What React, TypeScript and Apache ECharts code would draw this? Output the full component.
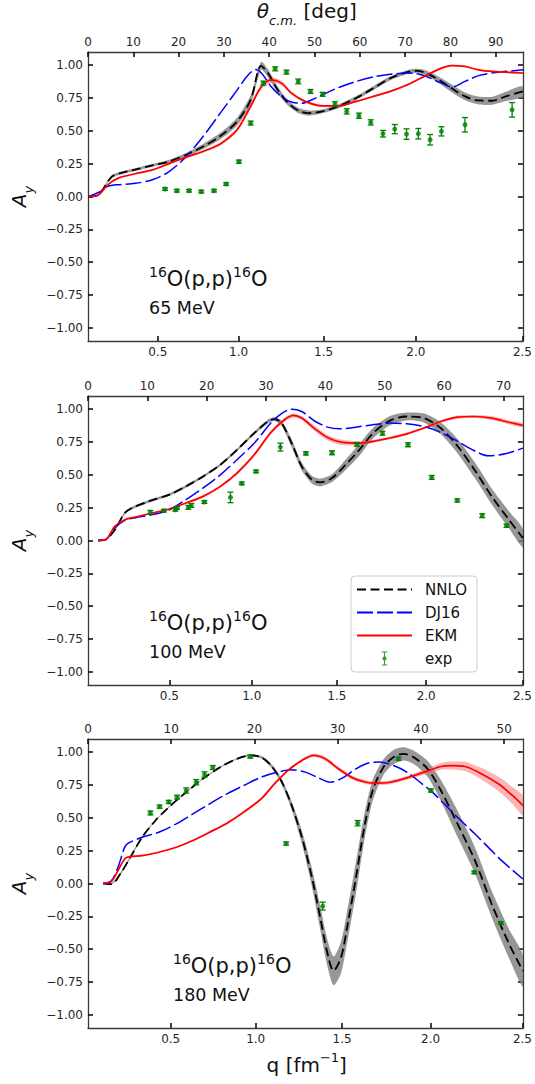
import React, { useEffect, useRef } from "react";
import * as echarts from "echarts";

// ---------- tick labels ----------
const Q_TICKS = [0.5, 1.0, 1.5, 2.0, 2.5];
const AY_TICKS = [-1, -0.75, -0.5, -0.25, 0, 0.25, 0.5, 0.75, 1];
const P1_THETA_TICKS = [0, 10, 20, 30, 40, 50, 60, 70, 80, 90];
const P2_THETA_TICKS = [0, 10, 20, 30, 40, 50, 60, 70];
const P3_THETA_TICKS = [0, 10, 20, 30, 40, 50];

// ---------- Panel 1 : 65 MeV (x values are theta_cm in degrees) ----------
const P1_NNLO_T = [0.1, 2.2, 5.2, 7.4, 10.4, 14.2, 17.9, 21.7, 25.4, 29.2, 32.9, 35.9, 38.2, 39.7, 41.9, 44.2, 46.4, 48.7, 51.7, 55.5, 59.2, 63.0, 66.7, 70.5, 72.7, 75.0, 78.0, 80.2, 83.2, 86.2, 89.2, 92.2, 96.0];
const P1_NNLO_AY = [0, 0.01, 0.15, 0.18, 0.205, 0.237, 0.267, 0.318, 0.38, 0.46, 0.57, 0.735, 0.995, 0.94, 0.81, 0.71, 0.655, 0.635, 0.648, 0.69, 0.75, 0.825, 0.9, 0.947, 0.957, 0.934, 0.876, 0.825, 0.762, 0.731, 0.729, 0.762, 0.8];
const P1_NNLO_BAND = [0, 0.003, 0.01, 0.01, 0.01, 0.01, 0.012, 0.015, 0.02, 0.025, 0.03, 0.035, 0.03, 0.03, 0.025, 0.02, 0.02, 0.02, 0.015, 0.015, 0.015, 0.015, 0.015, 0.015, 0.015, 0.02, 0.025, 0.03, 0.03, 0.03, 0.03, 0.035, 0.04];
const P1_DJ_T = [0.1, 2.9, 4.4, 6.7, 10.4, 14.2, 17.9, 21.7, 25.4, 29.2, 32.9, 35.2, 37.0, 38.4, 40.4, 42.7, 44.9, 47.2, 49.4, 51.7, 55.5, 59.2, 63.0, 66.7, 70.5, 72.7, 75.0, 78.0, 80.3, 83.2, 86.2, 90.0, 96.0];
const P1_DJ_AY = [0, 0.04, 0.077, 0.09, 0.1, 0.127, 0.19, 0.305, 0.457, 0.635, 0.81, 0.92, 0.966, 0.934, 0.838, 0.76, 0.72, 0.71, 0.736, 0.774, 0.832, 0.876, 0.91, 0.93, 0.94, 0.934, 0.909, 0.863, 0.833, 0.876, 0.92, 0.944, 0.964];
const P1_EKM_T = [0.1, 2.2, 4.4, 6.7, 10.4, 14.2, 17.9, 21.7, 25.4, 29.2, 32.9, 35.9, 38.2, 40.4, 42.7, 44.9, 47.9, 51.7, 55.5, 59.2, 63.0, 66.7, 70.5, 74.2, 78.0, 80.2, 83.2, 86.2, 89.2, 96.0];
const P1_EKM_AY = [0, 0.01, 0.09, 0.14, 0.173, 0.203, 0.25, 0.3, 0.343, 0.4, 0.508, 0.686, 0.833, 0.888, 0.863, 0.787, 0.724, 0.69, 0.69, 0.724, 0.762, 0.8, 0.85, 0.914, 0.977, 0.997, 0.99, 0.964, 0.952, 0.94];
const P1_EKM_BAND = [0, 0.002, 0.004, 0.005, 0.005, 0.005, 0.006, 0.008, 0.01, 0.012, 0.015, 0.018, 0.02, 0.02, 0.018, 0.012, 0.01, 0.008, 0.006, 0.006, 0.006, 0.006, 0.006, 0.006, 0.006, 0.006, 0.006, 0.006, 0.006, 0.006];
const P1_EXP_T = [17.0, 19.6, 22.3, 25.0, 27.8, 30.5, 33.3, 35.9, 38.7, 41.3, 43.8, 46.4, 49.1, 51.8, 54.5, 57.1, 59.8, 62.4, 65.1, 67.7, 70.3, 72.9, 75.5, 78.0, 83.2, 93.6];
const P1_EXP_AY = [0.057, 0.044, 0.044, 0.037, 0.044, 0.095, 0.265, 0.559, 0.863, 0.972, 0.947, 0.876, 0.8, 0.778, 0.703, 0.648, 0.615, 0.564, 0.478, 0.513, 0.475, 0.478, 0.432, 0.496, 0.546, 0.66];
const P1_EXP_ERR = [0.01, 0.01, 0.01, 0.01, 0.01, 0.01, 0.012, 0.015, 0.015, 0.015, 0.015, 0.018, 0.015, 0.015, 0.018, 0.02, 0.02, 0.02, 0.025, 0.035, 0.04, 0.04, 0.04, 0.035, 0.055, 0.055];

// ---------- Panel 2 : 100 MeV ----------
const P2_NNLO_T = [1.7, 3.1, 4.5, 6.2, 7.4, 10.2, 13.7, 16.5, 19.4, 22.3, 25.1, 28.0, 30.3, 31.4, 32.6, 34.3, 36.0, 37.7, 39.1, 41.1, 43.4, 45.7, 48.0, 50.8, 53.7, 56.6, 59.4, 62.3, 65.1, 68.0, 70.9, 73.25];
const P2_NNLO_AY = [0, 0.01, 0.08, 0.21, 0.247, 0.298, 0.349, 0.412, 0.488, 0.577, 0.69, 0.817, 0.906, 0.924, 0.894, 0.741, 0.564, 0.463, 0.442, 0.475, 0.577, 0.69, 0.817, 0.911, 0.944, 0.932, 0.856, 0.716, 0.539, 0.336, 0.158, 0.019];
const P2_NNLO_BAND = [0, 0.003, 0.008, 0.01, 0.01, 0.01, 0.01, 0.01, 0.01, 0.01, 0.01, 0.012, 0.015, 0.015, 0.02, 0.03, 0.03, 0.03, 0.03, 0.03, 0.04, 0.045, 0.04, 0.035, 0.03, 0.035, 0.045, 0.055, 0.06, 0.06, 0.065, 0.07];
const P2_DJ_T = [1.7, 3.1, 4.5, 6.2, 8.0, 10.8, 13.7, 16.5, 19.4, 22.3, 25.1, 28.0, 30.8, 32.6, 34.3, 36.0, 38.3, 40.5, 42.3, 45.1, 48.0, 50.8, 53.7, 56.6, 59.4, 62.3, 65.1, 67.4, 70.3, 73.25];
const P2_DJ_AY = [0, 0.01, 0.095, 0.153, 0.174, 0.196, 0.234, 0.311, 0.4, 0.5, 0.615, 0.741, 0.894, 0.965, 1.0, 0.982, 0.906, 0.861, 0.85, 0.863, 0.881, 0.894, 0.888, 0.868, 0.823, 0.754, 0.683, 0.645, 0.66, 0.703];
const P2_EKM_T = [1.7, 3.1, 4.5, 6.2, 8.0, 10.8, 13.7, 16.5, 19.4, 22.3, 25.1, 28.0, 30.8, 33.1, 34.6, 36.0, 38.3, 40.5, 42.8, 45.7, 48.0, 50.8, 53.7, 56.6, 59.4, 62.3, 65.1, 68.0, 70.9, 73.25];
const P2_EKM_AY = [0, 0.01, 0.108, 0.158, 0.179, 0.209, 0.24, 0.285, 0.336, 0.412, 0.513, 0.653, 0.822, 0.919, 0.952, 0.932, 0.848, 0.78, 0.747, 0.741, 0.754, 0.78, 0.812, 0.856, 0.906, 0.939, 0.944, 0.932, 0.9, 0.876];
const P2_EKM_BAND = [0, 0, 0.003, 0.005, 0.005, 0.005, 0.005, 0.006, 0.008, 0.01, 0.012, 0.015, 0.015, 0.015, 0.015, 0.015, 0.02, 0.02, 0.02, 0.015, 0.012, 0.01, 0.01, 0.01, 0.01, 0.012, 0.012, 0.015, 0.015, 0.015];
const P2_EXP_T = [10.5, 12.8, 14.7, 15.0, 16.9, 17.4, 19.6, 24.0, 25.9, 28.3, 32.4, 36.7, 41.1, 45.3, 49.6, 53.9, 57.9, 62.2, 66.4, 70.5];
const P2_EXP_AY = [0.214, 0.227, 0.234, 0.247, 0.252, 0.267, 0.293, 0.328, 0.435, 0.526, 0.711, 0.663, 0.668, 0.731, 0.817, 0.729, 0.48, 0.305, 0.189, 0.113];
const P2_EXP_ERR = [0.015, 0.01, 0.01, 0.01, 0.015, 0.015, 0.01, 0.04, 0.01, 0.01, 0.03, 0.012, 0.015, 0.015, 0.015, 0.015, 0.015, 0.012, 0.015, 0.012];

// ---------- Panel 3 : 180 MeV ----------
const P3_NNLO_T = [1.8, 2.8, 4.0, 5.2, 6.5, 8.1, 9.7, 11.8, 13.8, 15.9, 17.9, 19.5, 20.8, 22.0, 23.2, 24.4, 25.7, 26.9, 27.9, 28.7, 29.5, 30.4, 31.2, 32.2, 33.2, 34.2, 35.5, 36.7, 37.9, 39.1, 40.8, 42.4, 44.4, 46.5, 48.5, 50.6, 52.25];
const P3_NNLO_AY = [0, -0.005, 0.085, 0.212, 0.352, 0.479, 0.58, 0.695, 0.797, 0.886, 0.949, 0.975, 0.962, 0.898, 0.784, 0.606, 0.352, 0.047, -0.258, -0.512, -0.665, -0.563, -0.309, 0.047, 0.428, 0.708, 0.886, 0.962, 0.987, 0.962, 0.873, 0.708, 0.454, 0.174, -0.156, -0.461, -0.665];
const P3_NNLO_BAND = [0, 0.005, 0.01, 0.01, 0.01, 0.005, 0.005, 0.005, 0.005, 0.005, 0.005, 0.008, 0.01, 0.015, 0.02, 0.03, 0.05, 0.07, 0.09, 0.1, 0.11, 0.12, 0.12, 0.12, 0.1, 0.08, 0.06, 0.055, 0.05, 0.05, 0.06, 0.08, 0.1, 0.1, 0.1, 0.11, 0.12];
const P3_DJ_T = [1.8, 2.8, 3.6, 4.4, 4.8, 6.5, 8.5, 10.6, 12.6, 14.6, 16.7, 18.7, 20.8, 22.8, 24.4, 26.1, 27.7, 29.1, 30.6, 32.2, 33.8, 35.0, 36.7, 38.3, 39.9, 41.6, 43.2, 44.8, 46.5, 48.1, 49.7, 52.25];
const P3_DJ_AY = [0, 0.02, 0.123, 0.275, 0.306, 0.352, 0.39, 0.454, 0.53, 0.606, 0.682, 0.746, 0.809, 0.848, 0.865, 0.848, 0.804, 0.771, 0.804, 0.873, 0.919, 0.924, 0.898, 0.848, 0.771, 0.682, 0.58, 0.479, 0.377, 0.275, 0.174, 0.034];
const P3_EKM_T = [1.8, 2.8, 3.6, 4.4, 5.0, 6.5, 8.5, 10.6, 12.6, 14.6, 16.7, 18.7, 20.8, 22.4, 24.0, 25.7, 27.1, 28.5, 30.1, 31.8, 33.4, 34.6, 36.3, 38.3, 40.4, 42.4, 43.6, 45.3, 47.3, 49.3, 51.0, 52.25];
const P3_EKM_AY = [0, 0.015, 0.097, 0.187, 0.205, 0.212, 0.238, 0.276, 0.327, 0.39, 0.459, 0.543, 0.644, 0.758, 0.86, 0.937, 0.975, 0.949, 0.873, 0.804, 0.771, 0.764, 0.771, 0.804, 0.848, 0.891, 0.898, 0.891, 0.834, 0.759, 0.67, 0.593];
const P3_EKM_BAND = [0, 0, 0.003, 0.005, 0.005, 0.005, 0.005, 0.005, 0.005, 0.008, 0.01, 0.01, 0.01, 0.01, 0.01, 0.01, 0.012, 0.015, 0.015, 0.015, 0.015, 0.015, 0.015, 0.015, 0.02, 0.025, 0.03, 0.035, 0.045, 0.055, 0.065, 0.075];
const P3_EXP_T = [7.5, 8.6, 9.7, 10.7, 11.8, 13.0, 14.0, 15.0, 19.5, 23.8, 28.2, 32.4, 37.3, 41.2, 46.4, 49.6];
const P3_EXP_AY = [0.537, 0.585, 0.621, 0.657, 0.708, 0.771, 0.83, 0.883, 0.967, 0.304, -0.172, 0.459, 0.95, 0.708, 0.085, -0.301];
const P3_EXP_ERR = [0.015, 0.012, 0.012, 0.015, 0.02, 0.02, 0.02, 0.015, 0.012, 0.012, 0.03, 0.02, 0.012, 0.012, 0.01, 0.01];

const FONT = "DejaVu Sans";
const GREEN = "#008000";

type Panel = {
  top: number;
  thetaMax: number;
  qScale: number;
  qOffset: number;
  thetaTicks: number[];
  nnlo: [number[], number[], number[]];
  dj: [number[], number[]];
  ekm: [number[], number[], number[]];
  exp: [number[], number[], number[]];
  energy: string;
  labelX: number;
  labelY: number;
};

const PANELS: Panel[] = [
  { top: 52, thetaMax: 96.0, qScale: 3.287, qOffset: 0.0595, thetaTicks: P1_THETA_TICKS,
    nnlo: [P1_NNLO_T, P1_NNLO_AY, P1_NNLO_BAND], dj: [P1_DJ_T, P1_DJ_AY], ekm: [P1_EKM_T, P1_EKM_AY, P1_EKM_BAND],
    exp: [P1_EXP_T, P1_EXP_AY, P1_EXP_ERR], energy: "65 MeV", labelX: 149, labelY: 265 },
  { top: 396, thetaMax: 73.25, qScale: 4.194, qOffset: 0, thetaTicks: P2_THETA_TICKS,
    nnlo: [P2_NNLO_T, P2_NNLO_AY, P2_NNLO_BAND], dj: [P2_DJ_T, P2_DJ_AY], ekm: [P2_EKM_T, P2_EKM_AY, P2_EKM_BAND],
    exp: [P2_EXP_T, P2_EXP_AY, P2_EXP_ERR], energy: "100 MeV", labelX: 149, labelY: 609 },
  { top: 739, thetaMax: 52.25, qScale: 5.66, qOffset: 0.01, thetaTicks: P3_THETA_TICKS,
    nnlo: [P3_NNLO_T, P3_NNLO_AY, P3_NNLO_BAND], dj: [P3_DJ_T, P3_DJ_AY], ekm: [P3_EKM_T, P3_EKM_AY, P3_EKM_BAND],
    exp: [P3_EXP_T, P3_EXP_AY, P3_EXP_ERR], energy: "180 MeV", labelX: 173, labelY: 952 },
];

const GRID_LEFT = 88;
const GRID_WIDTH = 437.5;
const GRID_HEIGHT = 289;

const zip = (a: number[], b: number[]) => a.map((v, i) => [v, b[i]]);

function thetaOfQ(p: Panel, q: number) {
  return (2 * Math.asin((q - p.qOffset) / p.qScale) * 180) / Math.PI;
}
function qOfTheta(p: Panel, t: number) {
  return p.qScale * Math.sin((t * Math.PI) / 360) + p.qOffset;
}

const tickStyle = { show: true, inside: true, length: 5, lineStyle: { color: "#111", width: 1.6 } };
const lineAxis = { show: true, onZero: false, lineStyle: { color: "#3a3a3a", width: 1.3 } };
const labelStyle = { fontFamily: FONT, fontSize: 12, color: "#262626" };

function bandSeries(i: number, t: number[], y: number[], h: number[], fill: string) {
  return {
    type: "custom",
    xAxisIndex: 2 * i,
    yAxisIndex: 2 * i,
    silent: true,
    clip: true,
    z: 1,
    data: [[t[0], y[0]]],
    renderItem: (_params: any, api: any) => {
      const up = t.map((v, k) => api.coord([v, y[k] + h[k]]));
      const lo = t.map((v, k) => api.coord([v, y[k] - h[k]])).reverse();
      return {
        type: "polygon",
        shape: { points: up.concat(lo), smooth: 0.25 },
        style: { fill, stroke: null },
      };
    },
  };
}

const sub = (fs: number) => ({ fontFamily: FONT, fontSize: fs, fill: "#111" });

function buildOption() {
  const grid: any[] = [];
  const xAxis: any[] = [];
  const yAxis: any[] = [];
  const series: any[] = [];
  const graphic: any[] = [];

  PANELS.forEach((p, i) => {
    grid.push({ left: GRID_LEFT, top: p.top, width: GRID_WIDTH, height: GRID_HEIGHT });
    const qPos = Q_TICKS.map((q) => thetaOfQ(p, q));
    xAxis.push({
      type: "value", gridIndex: i, position: "bottom", min: 0, max: p.thetaMax,
      axisLine: lineAxis,
      axisTick: { ...tickStyle, customValues: qPos },
      axisLabel: { ...labelStyle, margin: 5, customValues: qPos, formatter: (v: number) => qOfTheta(p, v).toFixed(1) },
      splitLine: { show: false },
    });
    xAxis.push({
      type: "value", gridIndex: i, position: "top", min: 0, max: p.thetaMax,
      axisLine: lineAxis,
      axisTick: { ...tickStyle, customValues: p.thetaTicks },
      axisLabel: { ...labelStyle, margin: 4, customValues: p.thetaTicks, formatter: (v: number) => String(Math.round(v)) },
      splitLine: { show: false },
    });
    yAxis.push({
      type: "value", gridIndex: i, position: "left", min: -1.1, max: 1.1,
      axisLine: lineAxis,
      axisTick: { ...tickStyle, customValues: AY_TICKS },
      axisLabel: {
        ...labelStyle, margin: 5, customValues: AY_TICKS,
        formatter: (v: number) => (v < 0 ? "\u2212" : "") + Math.abs(v).toFixed(2),
      },
      splitLine: { show: false },
    });
    yAxis.push({
      type: "value", gridIndex: i, position: "right", min: -1.1, max: 1.1,
      axisLine: lineAxis,
      axisTick: { ...tickStyle, customValues: AY_TICKS },
      axisLabel: { show: false },
      splitLine: { show: false },
    });

    const xi = 2 * i;
    series.push(bandSeries(i, p.nnlo[0], p.nnlo[1], p.nnlo[2], "rgba(128,128,128,0.82)"));
    series.push(bandSeries(i, p.ekm[0], p.ekm[1], p.ekm[2], "rgba(245,110,110,0.5)"));
    series.push({
      type: "line", name: "NNLO", xAxisIndex: xi, yAxisIndex: xi, data: zip(p.nnlo[0], p.nnlo[1]),
      symbol: "none", smooth: 0.3, silent: true, z: 3,
      lineStyle: { color: "#000", width: 1.8, type: [9, 4.5] },
      itemStyle: { color: "#000" },
    });
    series.push({
      type: "line", name: "DJ16", xAxisIndex: xi, yAxisIndex: xi, data: zip(p.dj[0], p.dj[1]),
      symbol: "none", smooth: 0.3, silent: true, z: 3,
      lineStyle: { color: "#0000ff", width: 1.5, type: [16, 4] },
      itemStyle: { color: "#0000ff" },
    });
    series.push({
      type: "line", name: "EKM", xAxisIndex: xi, yAxisIndex: xi, data: zip(p.ekm[0], p.ekm[1]),
      symbol: "none", smooth: 0.3, silent: true, z: 3,
      lineStyle: { color: "#ff0000", width: 1.7 },
      itemStyle: { color: "#ff0000" },
    });
    series.push({
      type: "scatter", name: "exp", xAxisIndex: xi, yAxisIndex: xi, data: zip(p.exp[0], p.exp[1]),
      symbol: "circle", symbolSize: 5, silent: true, z: 5,
      itemStyle: { color: GREEN },
    });
    series.push({
      type: "custom", name: "exp", xAxisIndex: xi, yAxisIndex: xi, silent: true, z: 5,
      data: p.exp[0].map((t, k) => [t, p.exp[1][k], p.exp[2][k]]),
      encode: { x: 0, y: 1 },
      renderItem: (_params: any, api: any) => {
        const x = api.value(0), y = api.value(1), e = api.value(2);
        const a = api.coord([x, y + e]);
        const b = api.coord([x, y - e]);
        const st = { stroke: GREEN, lineWidth: 1.3 };
        return {
          type: "group",
          children: [
            { type: "line", shape: { x1: a[0], y1: a[1], x2: b[0], y2: b[1] }, style: st },
            { type: "line", shape: { x1: a[0] - 3, y1: a[1], x2: a[0] + 3, y2: a[1] }, style: st },
            { type: "line", shape: { x1: b[0] - 3, y1: b[1], x2: b[0] + 3, y2: b[1] }, style: st },
          ],
        };
      },
    });

    // reaction label
    graphic.push({
      type: "text", left: p.labelX, top: p.labelY, silent: true, z: 10,
      style: {
        text: "{s|16}{m|O(p,p)}{s|16}{m|O}",
        rich: {
          s: { ...sub(14), verticalAlign: "top", lineHeight: 24 },
          m: { ...sub(21), verticalAlign: "bottom", lineHeight: 24 },
        },
      },
    });
    graphic.push({
      type: "text", left: p.labelX, top: p.labelY + 34, silent: true, z: 10,
      style: { text: p.energy, fontFamily: FONT, fontSize: 17.5, fill: "#111" },
    });
    // y-axis title
    graphic.push({
      type: "text", x: 22, y: p.top + GRID_HEIGHT / 2, rotation: Math.PI / 2, silent: true, z: 10,
      style: {
        text: "{a|A}{s|y}", align: "center", verticalAlign: "middle",
        rich: {
          a: { ...sub(20), fontStyle: "italic", verticalAlign: "top", lineHeight: 26 },
          s: { ...sub(13), fontStyle: "italic", verticalAlign: "bottom", lineHeight: 22 },
        },
      },
    });
  });

  // top axis title
  graphic.push({
    type: "text", x: GRID_LEFT + GRID_WIDTH / 2, y: 14, silent: true, z: 10,
    style: {
      text: "{t|\u03b8}{s|c.m.}{n| [deg]}", align: "center", verticalAlign: "middle",
      rich: {
        t: { ...sub(20), fontStyle: "italic", verticalAlign: "top", lineHeight: 26 },
        s: { ...sub(13), fontStyle: "italic", verticalAlign: "bottom", lineHeight: 22 },
        n: { ...sub(20), verticalAlign: "top", lineHeight: 26 },
      },
    },
  });
  // bottom axis title
  graphic.push({
    type: "text", x: GRID_LEFT + GRID_WIDTH / 2, y: 1063, silent: true, z: 10,
    style: {
      text: "{n|q [fm}{s|\u22121}{n|]}", align: "center", verticalAlign: "middle",
      rich: {
        n: { ...sub(20), verticalAlign: "bottom", lineHeight: 24 },
        s: { ...sub(13), verticalAlign: "top", lineHeight: 24 },
      },
    },
  });

  const hideSym = { opacity: 0 };
  return {
    animation: false,
    backgroundColor: "#ffffff",
    grid,
    xAxis,
    yAxis,
    series,
    graphic,
    legend: {
      orient: "vertical",
      left: 351,
      top: 576,
      itemWidth: 55,
      itemHeight: 14,
      itemGap: 8,
      padding: [6, 10, 6, 5],
      backgroundColor: "rgba(255,255,255,0.9)",
      borderColor: "#cccccc",
      borderWidth: 1,
      borderRadius: 4,
      selectedMode: false,
      textStyle: { fontFamily: FONT, fontSize: 15, color: "#111", padding: [0, 0, 0, 8] },
      data: [
        { name: "NNLO", itemStyle: hideSym },
        { name: "DJ16", itemStyle: hideSym },
        { name: "EKM", itemStyle: hideSym },
        { name: "exp", icon: "path://M2,0H10V1.6H2Z M5.2,0H6.8V20H5.2Z M2,18.4H10V20H2Z M6,7A3,3 0 1,1 5.99,7Z" },
      ],
    },
  };
}

export default function App() {
  const ref = useRef<HTMLDivElement>(null);
  useEffect(() => {
    document.body.style.margin = "0";
    const chart = echarts.init(ref.current!, null, { renderer: "svg" });
    chart.setOption(buildOption() as any);
    return () => chart.dispose();
  }, []);
  return <div ref={ref} style={{ width: 535, height: 1084 }} />;
}
